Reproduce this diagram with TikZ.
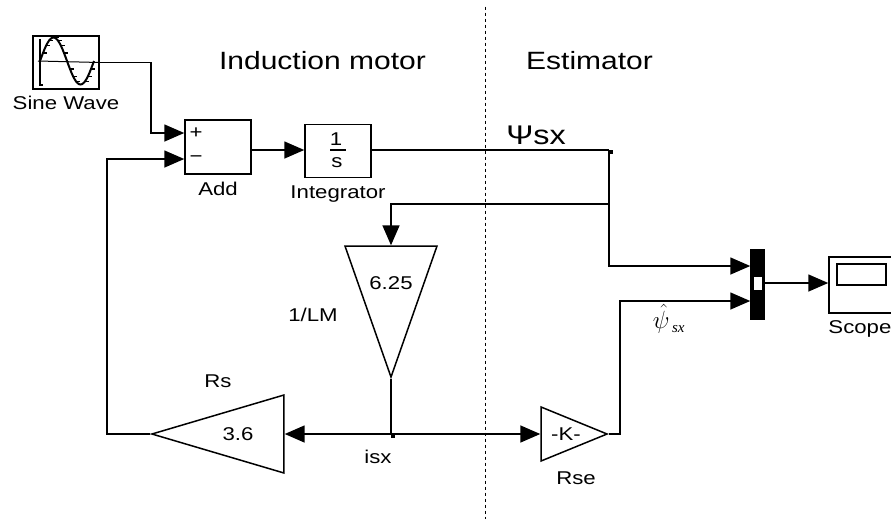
\documentclass[tikz,border=0pt]{standalone}
\usepackage{fontspec}
\setmainfont[FakeStretch=1.2]{Liberation Sans}
\newfontfamily\sxfont{Liberation Serif}
\usetikzlibrary{arrows.meta,positioning,shapes.geometric}
\tikzset{
  wire/.style={line width=1.6pt},
  sig/.style={wire, ->, >={Triangle[length=20pt,width=17pt]}},
  block/.style={draw, line width=1.5pt, rectangle, inner sep=0pt},
  gain/.style={draw, line width=1.5pt, isosceles triangle, isosceles triangle stretches, inner sep=0pt},
  bigtext/.style={font=\fontsize{25}{25}\selectfont, inner sep=0pt},
  smalltext/.style={font=\fontsize{18.5}{18.5}\selectfont, inner sep=0pt},
  junc/.style={fill, rectangle, inner sep=0pt, minimum size=4pt}
}
\begin{document}
\begin{tikzpicture}[x=1pt, y=-1pt]
\useasboundingbox (0,0) rectangle (891,520);

\node[block, minimum width=66pt, minimum height=53pt] (sine) at (66,62.5) {};
\node[block, minimum width=66pt, minimum height=54pt] (add) at (218,147) {};
\node[block, minimum width=66pt, minimum height=53pt] (int) at (338,151) {};
\node[block, fill, minimum width=13pt, minimum height=69pt] (mux) at (757.5,284.5) {};
\node[fill=white, minimum width=8pt, minimum height=13pt, inner sep=0pt] (muxwin) at (758,283) {};
\node[block, minimum width=66pt, minimum height=56pt] (scope) at (862,285) {};
\node[block, minimum width=49pt, minimum height=21pt] (screen) at (861.5,274.5) {};

\node[gain, shape border rotate=270, minimum width=92pt, minimum height=131pt, anchor=apex] (lm) at (391,379) {};
\node[gain, shape border rotate=180, minimum width=78pt, minimum height=132pt, anchor=apex] (rs) at (150,434) {};
\node[gain, minimum width=54pt, minimum height=66pt, anchor=apex] (rse) at (609,434) {};

\node[bigtext] (motorlbl) at (322.5,61) {Induction motor};
\node[bigtext] (estlbl) at (589.5,61) {Estimator};
\node[bigtext, font=\fontsize{27}{27}\selectfont] (psilbl) at (536,135) {Ψsx};
\node[smalltext, below=6pt of sine] (sinecap) {Sine Wave};
\node[smalltext, below=7pt of add] (addcap) {Add};
\node[smalltext, below=7pt of int] (intcap) {Integrator};
\node[smalltext, below=7pt of scope.south west, anchor=north west] (scopecap) {Scope};
\node[smalltext] (one) at (336,139) {1};
\node[smalltext] (ess) at (337,163) {s};
\node[smalltext] (plus) at (196,133) {+};
\node[smalltext] (minus) at (196,159) {−};
\node[smalltext] (lmval) at (391,283) {6.25};
\node[smalltext] (lmcap) at (313,315) {1/LM};
\node[smalltext] (rsval) at (238,434) {3.6};
\node[smalltext] (rscap) at (218,381) {Rs};
\node[smalltext] (kval) at (566,434) {-K-};
\node[smalltext] (rsecap) at (576,478) {Rse};
\node[smalltext] (isx) at (378,457) {isx};
\node[inner sep=0pt, font=\fontsize{29}{29}\selectfont] (psihat) at (669,319) {$\hat{\psi}_{\,\hbox{\sxfont\itshape\fontsize{15}{15}\selectfont sx}}$};

\coordinate (addp) at (add.west |- 0,133);
\coordinate (addm) at (add.west |- 0,159);
\coordinate (addout) at (add.east |- 0,150);
\coordinate (intin) at (int.west |- 0,150);
\coordinate (intout) at (int.east |- 0,150);
\coordinate (muxa) at (mux.west |- 0,266);
\coordinate (muxb) at (mux.west |- 0,301);
\coordinate (muxout) at (mux.east |- 0,283);
\coordinate (scopein) at (scope.west |- 0,283);
\coordinate (tap) at (609,150);
\coordinate (branch) at (609,204);
\coordinate (isxtap) at (391,434);
\coordinate (axisl) at (38,61);

\draw[line width=1pt] (axisl) -- (sine.east);
\draw[wire] (40,39) -- (40,85) -- (43,85);
\draw[line width=2pt] plot[smooth, domain=0:360, samples=37] ({40+\x/360*54}, {61-23.5*sin(\x)});
\foreach \t in {20,40,60,100,120,140,160,200,220,240,300,320,340}
  \draw[line width=1.2pt] ({40+\t/360*54}, {61-23.5*sin(\t)}) -- ++(4,0);

\draw[sig] (sine.east) -| (151,133) -- (addp);
\draw[sig] (rs.apex) -| (107,159) -- (addm);
\draw[sig] (addout) -- (intin);
\draw[wire] (intout) -- (tap);
\node[junc] (tapdot) at (611,152) {};
\draw[sig] (tap) -- (branch) |- (muxa);
\draw[sig] (branch) -| (lm.north);
\draw[wire] (lm.apex) -- (isxtap);
\node[junc] (isxdot) at (393,436) {};
\draw[sig] (isxtap) -- (rs.east);
\draw[sig] (isxtap) -- (rse.west);
\draw[sig] (rse.apex) -| (620,301) -- (muxb);
\draw[sig] (muxout) -- (scopein);
\draw[wire, -] (330,150) -- (346,150);

\node[inner sep=0pt] (divtop) at (485,6) {};
\node[inner sep=0pt] (divbot) at (485,520) {};
\draw[dashed, line width=0.7pt] (divtop) -- (divbot);

\end{tikzpicture}
\end{document}
